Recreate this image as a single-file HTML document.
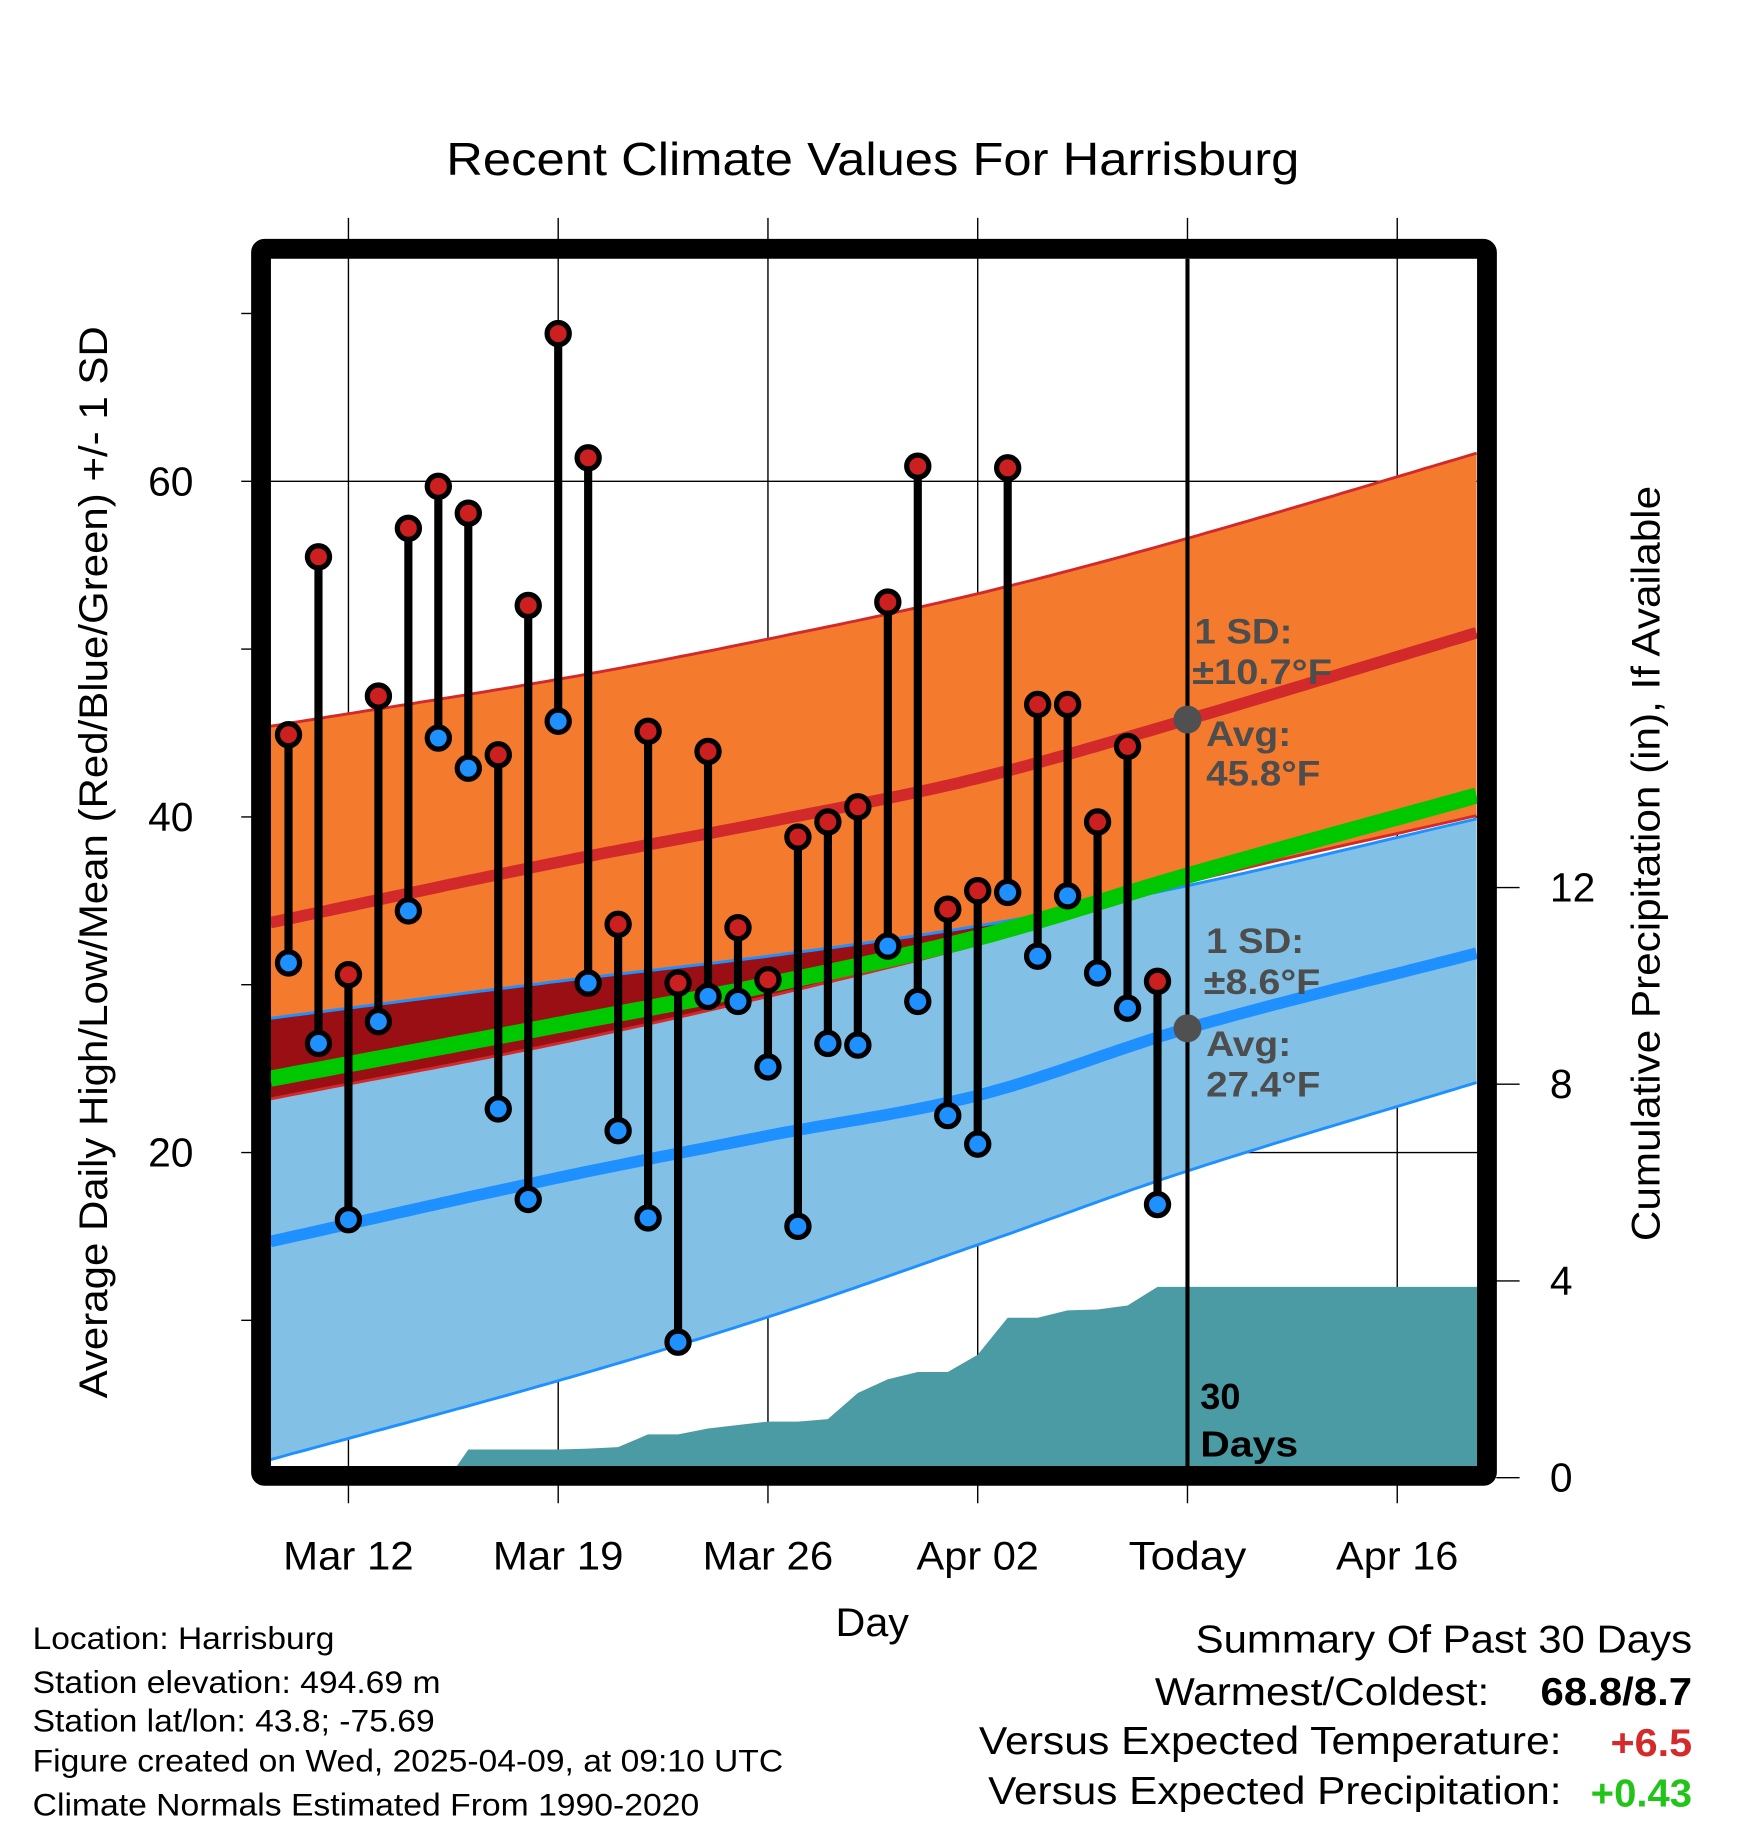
<!DOCTYPE html>
<html><head><meta charset="utf-8"><style>
html,body{margin:0;padding:0;background:#fff;}
svg{display:block;font-family:"Liberation Sans",sans-serif;}
</style></head><body>
<svg id="chart" width="1748" height="1828" viewBox="0 0 1500 1568.65" xmlns="http://www.w3.org/2000/svg">
<defs><clipPath id="plotclip"><rect x="232" y="222" width="1036" height="1036"/></clipPath></defs>
<rect x="0" y="0" width="1500" height="1569" fill="#fff"/>
<text x="383" y="150" font-size="40" textLength="732" lengthAdjust="spacingAndGlyphs">Recent Climate Values For Harrisburg</text>
<g id="grid"></g>
<g id="plot" clip-path="url(#plotclip)"></g>
<g id="overlay"></g>
<rect x="224" y="213.5" width="1052" height="1053" fill="none" stroke="#000" stroke-width="17" rx="3"/>
<g id="axes"></g>
<text transform="translate(92,1200) rotate(-90)" font-size="34" textLength="920" lengthAdjust="spacingAndGlyphs">Average Daily High/Low/Mean (Red/Blue/Green) +/- 1 SD</text>
<text transform="translate(1424,1065) rotate(-90)" font-size="34" textLength="648" lengthAdjust="spacingAndGlyphs">Cumulative Precipitation (in), If Available</text>
<text x="717" y="1404" font-size="34" textLength="63" lengthAdjust="spacingAndGlyphs">Day</text>
<g font-size="27">
<text x="28" y="1415" textLength="259" lengthAdjust="spacingAndGlyphs">Location: Harrisburg</text>
<text x="28" y="1453" textLength="350" lengthAdjust="spacingAndGlyphs">Station elevation: 494.69 m</text>
<text x="28" y="1486" textLength="345" lengthAdjust="spacingAndGlyphs">Station lat/lon: 43.8; -75.69</text>
<text x="28" y="1520" textLength="644" lengthAdjust="spacingAndGlyphs">Figure created on Wed, 2025-04-09, at 09:10 UTC</text>
<text x="28" y="1558" textLength="572" lengthAdjust="spacingAndGlyphs">Climate Normals Estimated From 1990-2020</text>
</g>
<g font-size="33">
<text x="1026" y="1418" textLength="426" lengthAdjust="spacingAndGlyphs">Summary Of Past 30 Days</text>
<text x="991" y="1463" textLength="287" lengthAdjust="spacingAndGlyphs">Warmest/Coldest:</text>
<text x="1322" y="1463" font-weight="bold" textLength="130" lengthAdjust="spacingAndGlyphs">68.8/8.7</text>
<text x="840" y="1505" textLength="500" lengthAdjust="spacingAndGlyphs">Versus Expected Temperature:</text>
<text x="1382" y="1507" font-weight="bold" fill="#d42a2a" textLength="70" lengthAdjust="spacingAndGlyphs">+6.5</text>
<text x="848" y="1548" textLength="492" lengthAdjust="spacingAndGlyphs">Versus Expected Precipitation:</text>
<text x="1365" y="1550" font-weight="bold" fill="#22c41a" textLength="87" lengthAdjust="spacingAndGlyphs">+0.43</text>
</g>
</svg>
<script>
// ---- data ----
const normDays = [-2.6, 7, 14, 21, 28, 37.7];
const highUpper = [45.4, 48.2, 50.6, 53.3, 56.6, 61.7];
const highMean  = [33.7, 37.3, 39.7, 42.3, 45.8, 51.0];
const highLower = [23.2, 26.5, 29.3, 32.4, 36.1, 40.1];
const meanTemp  = [24.4, 27.6, 30.0, 32.8, 36.5, 41.3];
const lowUpper  = [28.0, 30.2, 31.7, 33.5, 35.9, 39.9];
const lowMean   = [14.7, 18.5, 21.0, 23.4, 27.4, 31.9];
const lowLower  = [1.7, 6.4, 10.2, 14.5, 18.9, 24.2];
const obsDays = [-2,-1,0,1,2,3,4,5,6,7,8,9,10,11,12,13,14,15,16,17,18,19,20,21,22,23,24,25,26,27];
const obsHigh = [44.9,55.5,30.6,47.2,57.2,59.7,58.1,43.7,52.6,68.8,61.4,33.6,45.1,30.1,43.9,33.4,30.3,38.8,39.7,40.6,52.8,60.9,34.5,35.6,60.8,46.7,46.7,39.7,44.2,30.2];
const obsLow  = [31.3,26.5,16.0,27.8,34.4,44.7,42.9,22.6,17.2,45.7,30.1,21.3,16.1,8.7,29.3,29.0,25.1,15.6,26.5,26.4,32.3,29.0,22.2,20.5,35.5,31.7,35.3,30.7,28.6,16.9];
const precipDays = [3.35,4,5,6,7,8,9,10,11,12,13,14,15,16,17,18,19,20,21,22,23,24,25,26,27,37.7];
const precipVals = [0,0.57,0.57,0.57,0.57,0.59,0.62,0.88,0.88,1.0,1.07,1.14,1.14,1.19,1.72,2.0,2.15,2.15,2.5,3.25,3.25,3.4,3.42,3.5,3.88,3.88];
const xTickDays = [0,7,14,21,28,35];
const xTickLabels = ["Mar 12","Mar 19","Mar 26","Apr 02","Today","Apr 16"];
const xTickWidths = [112,112,112,105,101,105];
const yTicks = [20,40,60];
const yMinor = [10,30,50,70];
const y2Ticks = [0,4,8,12];
const todayDay = 28;
// ---- scales ----
const X = d => 299 + d*180/7;
const Y = t => 1277 - t*14.4;
const Y2 = p => 1268 - p*42.2;
const NS='http://www.w3.org/2000/svg';
function mk(tag, attrs, parent){const e=document.createElementNS(NS,tag);for(const k in attrs)e.setAttribute(k,attrs[k]);parent.appendChild(e);return e;}
function interp(arr,d){
  const n=normDays.length;let i=0;
  while(i<n-2&&d>normDays[i+1])i++;
  const t=(d-normDays[i])/(normDays[i+1]-normDays[i]);
  const h=normDays[i+1]-normDays[i];
  const slope=k=>{if(k<=0)return (arr[1]-arr[0])/(normDays[1]-normDays[0]);if(k>=n-1)return (arr[n-1]-arr[n-2])/(normDays[n-1]-normDays[n-2]);return (arr[k+1]-arr[k-1])/(normDays[k+1]-normDays[k-1]);};
  const m0=slope(i)*h,m1=slope(i+1)*h,t2=t*t,t3=t2*t;
  return (2*t3-3*t2+1)*arr[i]+(t3-2*t2+t)*m0+(-2*t3+3*t2)*arr[i+1]+(t3-t2)*m1;
}
const samp=[];for(let d=normDays[0];d<=normDays[normDays.length-1]+0.001;d+=0.25)samp.push(d);
function linePts(arr){return samp.map(d=>X(d).toFixed(1)+','+Y(interp(arr,d)).toFixed(1)).join(' ');}
function bandPts(up,lo){return samp.map(d=>X(d).toFixed(1)+','+Y(up(d)).toFixed(1)).concat(samp.slice().reverse().map(d=>X(d).toFixed(1)+','+Y(lo(d)).toFixed(1))).join(' ');}
const grid=document.getElementById('grid'),plot=document.getElementById('plot'),ov=document.getElementById('overlay'),axes=document.getElementById('axes');
xTickDays.forEach((d,i)=>{const l=mk('line',{x1:X(d),x2:X(d),y1:187,y2:1290,stroke:'#000','stroke-width':1.2},grid);
});
yTicks.forEach(t=>{const l=mk('line',{x1:207,x2:1268,y1:Y(t),y2:Y(t),stroke:'#000','stroke-width':1.2},grid);
});
let p;
p=mk('polygon',{points:bandPts(d=>interp(highUpper,d),d=>interp(highLower,d)),fill:'#f47a2e'},plot);

p=mk('polygon',{points:bandPts(d=>interp(lowUpper,d),d=>interp(lowLower,d)),fill:'#82c0e6'},plot);

p=mk('polygon',{points:bandPts(d=>interp(lowUpper,d),d=>Math.min(interp(highLower,d),interp(lowUpper,d))),fill:'#9a0f14'},plot);

[[highUpper,'#d22a2a',2.5,'high-upper-line'],[highLower,'#d22a2a',2.5,'high-lower-line'],[lowUpper,'#1e90ff',2.5,'low-upper-line'],[lowLower,'#1e90ff',2.5,'low-lower-line'],[highMean,'#d22a2a',10,'normal-high-line'],[lowMean,'#1e90ff',10,'normal-low-line'],[meanTemp,'#00c800',14,'normal-mean-line']].forEach(a=>{
const l=mk('polyline',{points:linePts(a[0]),fill:'none',stroke:a[1],'stroke-width':a[2]},plot);
});
let pp=precipDays.map((d,i)=>X(d).toFixed(1)+','+Y2(precipVals[i]).toFixed(1));
pp.push(X(37.7)+','+Y2(0));pp.push(X(precipDays[0])+','+Y2(0));
p=mk('polygon',{points:pp.join(' '),fill:'#4a9ba4'},plot);

p=mk('line',{x1:X(todayDay),x2:X(todayDay),y1:222,y2:1258,stroke:'#000','stroke-width':3.5},plot);

obsDays.forEach((d,i)=>{const s=mk('line',{x1:X(d),x2:X(d),y1:Y(obsHigh[i]),y2:Y(obsLow[i]),stroke:'#000','stroke-width':7},plot);
});
obsDays.forEach((d,i)=>{
const h=mk('circle',{cx:X(d),cy:Y(obsHigh[i]),r:9.5,fill:'#cc2020',stroke:'#000','stroke-width':4.5},plot);

const l=mk('circle',{cx:X(d),cy:Y(obsLow[i]),r:9.5,fill:'#1e90ff',stroke:'#000','stroke-width':4.5},plot);
});
[interp(highMean,todayDay),interp(lowMean,todayDay)].forEach(v=>{const c=mk('circle',{cx:X(todayDay),cy:Y(v),r:12,fill:'#505050'},ov);
});
function txt(x,y,s,attrs,name,parent){const t=mk('text',Object.assign({x:x,y:y},attrs),parent);t.textContent=s;return t;}
const ga={'font-size':30,'font-weight':'bold',fill:'#4d4d4d'};
function ga2(w){return Object.assign({textLength:w,lengthAdjust:'spacingAndGlyphs'},ga);}
txt(1025,552,'1 SD:',ga2(84),'high-sd-label',ov);
txt(1023,587,'±10.7°F',ga2(120),'high-sd-value',ov);
txt(1035,640,'Avg:',ga2(73),'high-avg-label',ov);
txt(1035,674,'45.8°F',ga2(98),'high-avg-value',ov);
txt(1035,818,'1 SD:',ga2(84),'low-sd-label',ov);
txt(1033,853,'±8.6°F',ga2(100),'low-sd-value',ov);
txt(1035,906,'Avg:',ga2(73),'low-avg-label',ov);
txt(1035,941,'27.4°F',ga2(98),'low-avg-value',ov);
const ba={'font-size':31,'font-weight':'bold',fill:'#000'};
txt(1030,1209,'30',ba,'period-label',ov);
txt(1030,1250,'Days',Object.assign({textLength:84,lengthAdjust:'spacingAndGlyphs'},ba),'period-label-days',ov);
xTickDays.forEach((d,i)=>txt(X(d)-xTickWidths[i]/2,1347,xTickLabels[i],{'font-size':34,textLength:xTickWidths[i],lengthAdjust:'spacingAndGlyphs'},'x-tick-label',axes));
yTicks.forEach(t=>txt(166,Y(t)+12,String(t),{'font-size':35,'text-anchor':'end'},'y-tick-label',axes));
yMinor.forEach(t=>{const l=mk('line',{x1:207,x2:216,y1:Y(t),y2:Y(t),stroke:'#000','stroke-width':1.2},axes);
});
y2Ticks.forEach(v=>{const l=mk('line',{x1:1284,x2:1304,y1:Y2(v),y2:Y2(v),stroke:'#000','stroke-width':1.2},axes);

txt(1330,Y2(v)+12,String(v),{'font-size':35},'y2-tick-label',axes);});
</script>
</body></html>
